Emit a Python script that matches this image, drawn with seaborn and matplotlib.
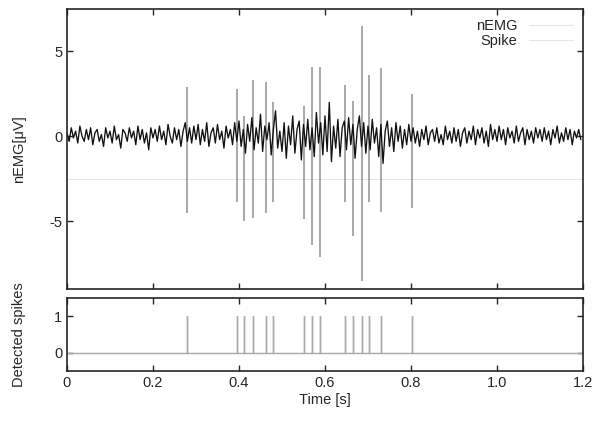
import numpy as np
import pandas as pd
import seaborn as sns
import matplotlib
matplotlib.use("Agg")
import matplotlib.pyplot as plt
from matplotlib.lines import Line2D

# background nEMG in 0.1 s blocks (5 ms steps)
bg_00 = [0.2, -0.3, 0.5, -0.1, 0.3, -0.4, 0.6, 0.0, -0.3, 0.4, -0.2, 0.5, -0.5, 0.2, 0.4, -0.3, 0.1, -0.6, 0.5, -0.1]
bg_01 = [0.3, -0.4, 0.6, -0.2, 0.1, -0.7, 0.4, 0.2, -0.3, 0.5, -0.1, 0.3, -0.5, 0.6, -0.2, 0.4, -0.4, 0.2, -0.8, 0.5]
bg_02 = [-0.1, 0.4, -0.3, 0.6, -0.2, 0.3, -0.5, 0.7, 0.0, -0.4, 0.5, -0.2, 0.4, -0.6, 0.3, 0.8, -0.3, 0.5, -0.4, 0.6]
bg_03 = [-0.2, 0.7, -0.5, 0.4, -0.3, 0.8, -0.6, 0.2, 0.5, -0.4, 0.7, -0.2, 0.3, -0.7, 0.6, -0.1, 0.4, -0.5, 0.8, -0.3]
bg_04 = [0.9, -0.6, 0.4, -1.0, 0.7, -0.3, 1.1, -0.8, 0.5, -0.4, 1.3, -0.9, 0.6, -0.2, 0.8, -1.1, 0.4, 1.5, -0.7, 0.3]
bg_05 = [-0.9, 0.8, -1.3, 0.6, -0.5, 1.2, -1.0, 0.4, 0.9, -1.4, 0.7, -0.6, 1.0, -0.8, 0.5, -1.2, 1.4, -0.4, 0.8, -1.1]
bg_06 = [1.2, -0.9, 2.0, -1.5, 0.6, -0.7, 1.0, -1.2, 0.5, 0.9, -0.8, 1.1, -0.5, 0.7, -1.3, 0.4, 1.2, -0.6, 0.8, -1.0]
bg_07 = [0.6, -0.8, 1.0, -0.4, 0.5, -1.2, 0.7, -1.6, 0.3, 0.9, -0.6, 0.5, -0.9, 0.8, -0.3, 0.6, -0.7, 0.4, -0.5, 0.7]
bg_08 = [-0.3, 0.5, -0.4, 0.3, -0.6, 0.4, -0.2, 0.6, -0.5, 0.2, 0.4, -0.3, 0.5, -0.4, 0.1, -0.5, 0.6, -0.2, 0.3, -0.4]
bg_09 = [0.5, -0.3, 0.4, -0.6, 0.2, 0.5, -0.4, 0.3, -0.2, 0.6, -0.5, 0.4, -0.1, 0.5, -0.4, 0.3, -0.6, 0.7, -0.2, 0.4]
bg_10 = [-0.3, 0.6, -0.2, 0.4, -0.5, 0.5, -0.1, 0.3, -0.4, 0.6, -0.3, 0.2, 0.5, -0.5, 0.4, -0.2, 0.3, -0.4, 0.5, -0.1]
bg_11 = [0.4, -0.3, 0.5, -0.2, 0.3, -0.5, 0.4, -0.1, 0.6, -0.4, 0.2, -0.3, 0.5, -0.2, 0.4, -0.5, 0.3, -0.1, 0.4, -0.2]
dt = 0.005

# detected spikes: time [s], positive peak, negative peak
spike_t = [0.280, 0.395, 0.412, 0.433, 0.463, 0.478, 0.552, 0.569, 0.588,
           0.647, 0.666, 0.685, 0.702, 0.730, 0.803]
spike_up = [2.9, 2.8, 1.2, 3.3, 3.2, 2.0, 1.8, 4.1, 4.1, 3.0, 2.1, 6.5, 3.6, 4.0, 2.5]
spike_dn = [-4.5, -3.9, -5.0, -4.8, -4.5, -3.9, -4.9, -6.4, -7.1, -3.9, -5.9, -8.5, -3.9, -4.45, -4.25]

xticks = [0, 0.2, 0.4, 0.6, 0.8, 1.0, 1.2]
xticklabels = ["0", "0.2", "0.4", "0.6", "0.8", "1.0", "1.2"]

sig = bg_00 + bg_01 + bg_02 + bg_03 + bg_04 + bg_05 + bg_06 + bg_07 + bg_08 + bg_09 + bg_10 + bg_11
emg = pd.DataFrame({"t": np.arange(len(sig)) * dt, "v": sig})

# binary spike train for the lower panel
train_t, train_v = [0.0], [0.0]
for t in spike_t:
    train_t += [t, t, t]
    train_v += [0, 1, 0]
train_t.append(1.2)
train_v.append(0)
train = pd.DataFrame({"t": train_t, "v": train_v})

sns.set_theme(style="ticks")
plt.rcParams["font.family"] = ["Liberation Sans", "DejaVu Sans"]
plt.rcParams["axes.linewidth"] = 1.2
plt.rcParams["xtick.direction"] = "in"
plt.rcParams["ytick.direction"] = "in"

fig = plt.figure(figsize=(5.95, 4.23), dpi=100)
ax1 = fig.add_axes([0.1126, 0.3168, 0.8672, 0.662])
ax2 = fig.add_axes([0.1126, 0.1229, 0.8672, 0.1726])

# top: nEMG
ax1.axhline(-2.5, color="#e2e2e2", lw=0.6, zorder=0)
ax1.vlines(spike_t, spike_dn, spike_up, color="#9a9a9a", lw=1.2, zorder=1)
sns.lineplot(data=emg, x="t", y="v", ax=ax1, color="#111111", lw=0.95,
             estimator=None, sort=False, zorder=2)
ax1.set_xlim(0, 1.2)
ax1.set_ylim(-9, 7.5)
ax1.set_yticks([-5, 0, 5])
ax1.set_yticklabels(["-5", "0", "5"])
ax1.set_xticks(xticks)
ax1.set_xticklabels([])
ax1.set_xlabel("")
ax1.set_ylabel("nEMG[\u03bcV]", fontsize=10.5)
ax1.tick_params(top=True, right=True, labelsize=10.5, length=4, width=1)
handles = [Line2D([], [], color="#e6e6e6", lw=0.8), Line2D([], [], color="#e6e6e6", lw=0.8)]
ax1.legend(handles, ["nEMG", "Spike"], loc="upper right", frameon=False,
           fontsize=10.5, markerfirst=False, handlelength=3.0,
           labelspacing=0.05, borderaxespad=0.3)

# bottom: detected spikes
ax2.axhline(0, color="#d8d8d8", lw=0.8, zorder=0)
sns.lineplot(data=train, x="t", y="v", ax=ax2, color="#ababab", lw=1.0,
             estimator=None, sort=False)
ax2.set_xlim(0, 1.2)
ax2.set_ylim(-0.5, 1.5)
ax2.set_yticks([0, 1])
ax2.set_xticks(xticks)
ax2.set_xticklabels(xticklabels)
ax2.set_xlabel("Time [s]", fontsize=10.5, labelpad=2)
ax2.set_ylabel("Detected spikes", fontsize=10.5)
ax2.tick_params(top=True, right=True, labelsize=10.5, length=4, width=1)

ax1.yaxis.set_label_coords(-0.08, 0.5)
ax2.yaxis.set_label_coords(-0.08, 0.5)

fig.savefig("out.png", dpi=100)
